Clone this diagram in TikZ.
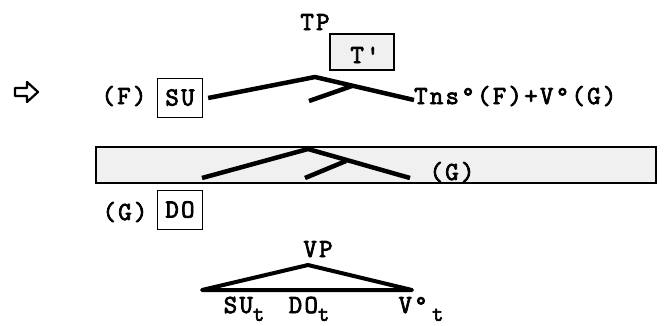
\documentclass[tikz,border=0pt]{standalone}
\usepackage{fontspec}
\newfontfamily\tw[LetterSpace=9, FakeBold=3]{Latin Modern Mono}
\newcommand{\low}[1]{\raisebox{-0.3em}{\fontsize{22}{22}\selectfont #1}}
\begin{document}
\begin{tikzpicture}[x=1pt, y=-1pt,
		every node/.style={font=\tw\fontsize{26}{28}\selectfont, inner sep=0pt, anchor=base},
		labelbox/.style={draw, anchor=center, line width=1.3pt, minimum width=45pt, minimum height=39pt,
			text height=15pt, text depth=0pt},
		shadebox/.style={draw, anchor=center, line width=1.5pt, fill=gray!12},
		branch/.style={line width=4.5pt},
		bar/.style={line width=4pt, line join=round},
	]
	\useasboundingbox (0,0) rectangle (666,325);

	% pointer in the margin
	\draw[line width=2.2pt, line join=round, fill=white]
		(15,88) -- (27,88) -- (27,82) -- (38,92) -- (27,102) -- (27,96) -- (15,96) -- cycle;

	% upper tree
	\node (tp)   at (315,30)  {TP};
	\node[shadebox, minimum width=64pt, minimum height=36pt] (tbar) at (362,52) {};
	\node (tbartext) at (365,63) {T'};
	\node (f)    at (124,104)  {(F)};
	\node[labelbox] (su) at (180,98) {SU};
	\node[anchor=base west] (tns) at (414,104) {Tns°(F)+V°(G)};
	\coordinate (tptop) at (315,77);
	\coordinate (tpin)  at (309,101);
	\coordinate (tpmid) at (352,86);
	\coordinate (tpend) at (414,100);

	\draw[branch] ([xshift=5pt]su.east) -- (tptop) -- (tpend);
	\draw[branch] (tpin) -- (tpmid);

	% shaded band
	\node[shadebox, minimum width=560pt, minimum height=36pt] (band) at (376,165) {};
	\node (g) at (452,180) {(G)};
	\coordinate (bandtop) at (308,149);
	\coordinate (bandl)   at (202,178);
	\coordinate (bandr)   at (410,178);
	\coordinate (bandin)  at (305,178);
	\coordinate (bandmid) at (346,161);

	\draw[branch] (bandl) -- (bandtop) -- (bandr);
	\draw[branch] (bandin) -- (bandmid);

	% moved object
	\node (g2) at (125,220) {(G)};
	\node[labelbox] (do) at (180,210) {DO};

	% VP triangle
	\node (vp) at (318,257) {VP};
	\coordinate (vptop) at (308,265);
	\coordinate (vpl)   at (202,290);
	\coordinate (vpr)   at (412,290);
	\draw[bar] (vpl) -- (vptop) -- (vpr) -- cycle;

	\node (sut) at (244,313) {SU\low{t}};
	\node (dot) at (309,313) {DO\low{t}};
	\node (vt)  at (421,313) {V°\,\low{t}};
\end{tikzpicture}
\end{document}
